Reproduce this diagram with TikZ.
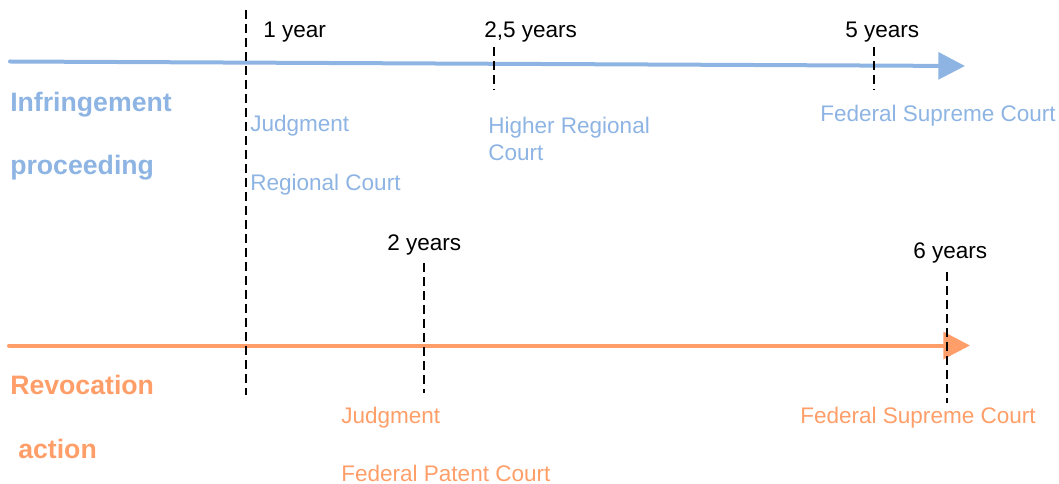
\documentclass[tikz,border=0pt]{standalone}
\usepackage{fontspec}
\setmainfont{Liberation Sans}
\usetikzlibrary{
    arrows.meta,
    positioning
}
\definecolor{infblue}{RGB}{141,180,227}
\definecolor{revorange}{RGB}{255,158,104}

\begin{document}
\begin{tikzpicture}[x=0.75pt, y=-0.75pt,
    every node/.style={inner sep=0pt, anchor=west, font=\fontsize{16.9}{20.25}\selectfont},
    head/.style={font=\fontsize{20}{24}\selectfont\bfseries},
    tick/.style={dash pattern=on 6.75pt off 3.75pt, line width=1.7pt},
    track/.style={line width=3pt, line cap=round, -{Triangle[length=20pt,width=20pt]}}]
\useasboundingbox (0,0) rectangle (1059,484);
% time lines
\coordinate (bs) at (10,61.5);
\coordinate (be) at (965,66);
\coordinate (os) at (9,345.5);
\coordinate (oe) at (970,345.5);
% ticks
\coordinate (t1a) at (246,10);
\coordinate (t1b) at (246,395);
\coordinate (t25a) at (494,47);
\coordinate (t25b) at (494,90);
\coordinate (t5a) at (874,47);
\coordinate (t5b) at (874,90);
\coordinate (t2a) at (424,263);
\coordinate (t2b) at (424,393);
\coordinate (t6a) at (947,272);
\coordinate (t6b) at (947,403);
% infringement proceeding
\node (y1) at (263,32) {1 year};
\node (y25) at (484,32) {2,5 years};
\node (y5) at (845,32) {5 years};
\node[head, text=infblue] (inf) at (10,104.5) {Infringement};
\node[head, text=infblue] (proc) at (10,167.5) {proceeding};
\node[text=infblue] (judg1) at (250,125.5) {Judgment};
\node[text=infblue] (rc) at (250,184.5) {Regional Court};
\node[text=infblue, align=left] (hrc) at (488,138.5) {Higher Regional\\Court};
\node[text=infblue] (fsc1) at (820,115.5) {Federal Supreme Court};
% revocation action
\node (y2) at (387,244.5) {2 years};
\node (y6) at (913,252.5) {6 years};
\node[head, text=revorange] (rev) at (10,385) {Revocation};
\node[head, text=revorange] (act) at (18,449) {action};
\node[text=revorange] (judg2) at (341,417.5) {Judgment};
\node[text=revorange] (fpc) at (341,473) {Federal Patent Court};
\node[text=revorange] (fsc2) at (800,417.5) {Federal Supreme Court};
\draw[track, infblue] (bs) -- (be);
\draw[track, revorange] (os) -- (oe);
\draw[tick]
(t1a) -- (t1b)
(t25a) -- (t25b)
(t5a) -- (t5b)
(t2a) -- (t2b)
(t6a) -- (t6b);
\end{tikzpicture}
\end{document}
